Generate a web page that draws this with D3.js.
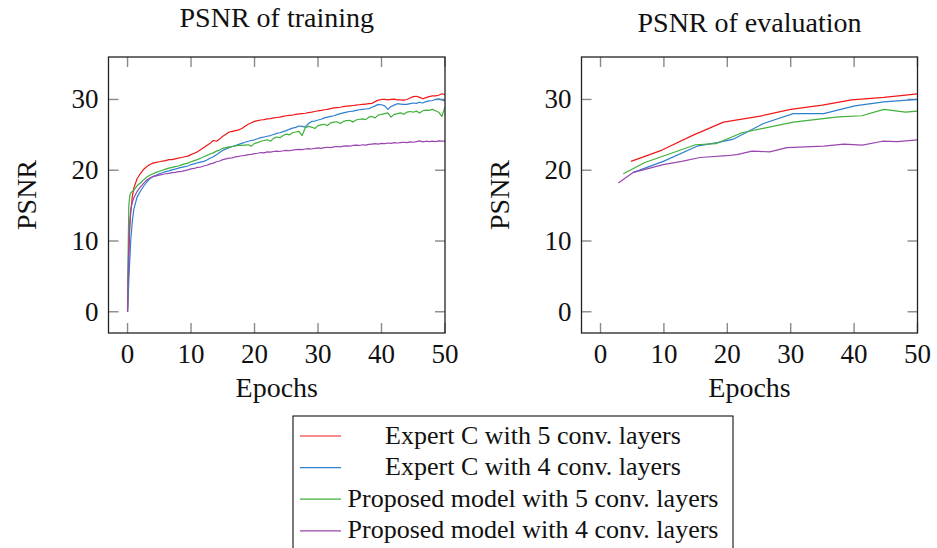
<!DOCTYPE html>
<html><head><meta charset="utf-8">
<script src="https://cdn.jsdelivr.net/npm/d3@7/dist/d3.min.js"></script>
<style>html,body{margin:0;padding:0;background:#fff;}svg{display:block;}
svg text{font-family:"Liberation Serif","Times New Roman",Times,"DejaVu Serif",serif;}</style>
</head><body>
<svg id="chart" width="937" height="548"></svg>
<script>
// ---------- DATA ----------
const trainEpochs = [0,0.1,0.2,0.35,0.5,0.75,1,1.5,2,2.5,
 3,3.5,4,4.5,5,5.5,6,6.5,7,7.5,
 8,8.5,9,9.5,10,10.5,11,11.5,12,12.5,
 13,13.5,14,14.5,15,15.5,16,16.5,17,17.5,
 18,18.5,19,19.5,20,20.5,21,21.5,22,22.5,
 23,23.5,24,24.5,25,25.5,26,26.5,27,27.5,
 28,28.5,29,29.5,30,30.5,31,31.5,32,32.5,
 33,33.5,34,34.5,35,35.5,36,36.5,37,37.5,
 38,38.5,39,39.5,40,40.5,41,41.5,42,42.5,
 43,43.5,44,44.5,45,45.5,46,46.5,47,47.5,
 48,48.5,49,49.5,50];

const trainExpert5 = [0,3.5,7.5,12.0,14.0,16.3,17.5,18.8,19.5,20.1,
 20.5,20.8,21.0,21.1,21.2,21.3,21.35,21.5,21.5,21.6,
 21.7,21.8,21.9,22.0,22.2,22.4,22.6,22.9,23.2,23.5,
 23.8,24.2,24.1,24.4,24.8,25.1,25.4,25.5,25.6,25.7,
 25.9,26.2,26.5,26.7,26.9,27.0,27.1,27.15,27.25,27.3,
 27.4,27.45,27.5,27.6,27.7,27.75,27.8,27.9,27.95,28.0,
 28.05,28.15,28.2,28.3,28.4,28.45,28.55,28.6,28.7,28.8,
 28.85,28.9,29.0,29.05,29.1,29.15,29.2,29.25,29.3,29.35,
 29.4,29.45,29.7,29.9,30.0,30.0,29.95,30.0,30.05,29.95,
 29.95,29.9,30.0,30.2,30.4,30.45,30.3,30.1,30.25,30.4,
 30.5,30.5,30.6,30.8,30.7];

const trainExpert4 = [0,2.0,4.5,7.3,10.0,12.8,14.5,16.2,17.0,17.7,
 18.3,18.8,19.1,19.3,19.5,19.65,19.8,19.9,20.05,20.15,
 20.3,20.4,20.5,20.6,20.8,20.9,21.05,21.15,21.25,21.45,
 21.7,21.9,22.2,22.5,22.8,23.0,23.2,23.35,23.5,23.65,
 23.8,23.95,24.1,24.2,24.3,24.45,24.6,24.7,24.8,24.9,
 25.05,25.2,25.3,25.45,25.6,25.8,25.95,26.05,26.25,26.2,
 26.1,26.6,26.9,26.95,27.1,27.2,27.4,27.5,27.6,27.7,
 27.85,28.0,28.1,28.2,28.3,28.35,28.45,28.55,28.6,28.65,
 28.7,28.9,29.1,29.3,29.25,29.1,28.6,29.0,29.2,29.4,
 29.35,29.3,29.3,29.4,29.5,29.45,29.6,29.5,29.7,29.8,
 29.85,30.0,30.1,29.95,29.75];

const trainProposed5 = [0,9.0,15.0,16.4,16.8,17.0,17.2,17.8,18.2,18.6,
 19.0,19.3,19.5,19.7,19.85,20.0,20.15,20.3,20.4,20.5,
 20.6,20.75,20.9,21.0,21.2,21.35,21.5,21.7,21.9,22.1,
 22.3,22.45,22.7,22.85,23.1,23.2,23.3,23.35,23.45,23.5,
 23.5,23.55,23.6,23.4,23.8,23.9,24.1,24.2,24.3,24.1,
 24.5,24.7,24.6,24.9,25.1,25.0,25.3,25.4,25.5,24.9,
 26.0,26.2,26.1,25.9,26.3,26.4,26.5,26.3,26.7,26.8,
 26.85,26.6,26.9,27.0,27.05,26.8,27.1,27.2,27.25,27.15,
 27.5,27.6,27.4,27.8,27.9,28.0,28.1,27.5,27.9,28.0,
 28.1,27.9,28.2,28.3,28.2,28.35,28.1,28.4,28.5,28.45,
 28.6,28.4,28.2,27.6,28.95];

const trainProposed4 = [0,6.0,9.7,12.5,14.4,15.5,16.1,17.0,17.6,18.1,
 18.6,18.9,19.1,19.2,19.3,19.4,19.5,19.55,19.65,19.7,
 19.8,19.85,19.95,20.05,20.2,20.25,20.4,20.45,20.6,20.7,
 20.9,21.0,21.2,21.3,21.5,21.6,21.7,21.75,21.9,21.95,
 22.05,22.1,22.2,22.25,22.35,22.4,22.5,22.45,22.6,22.55,
 22.65,22.7,22.65,22.75,22.8,22.75,22.85,22.9,22.95,22.9,
 23.0,23.05,23.0,23.1,23.15,23.1,23.2,23.25,23.2,23.3,
 23.35,23.3,23.4,23.45,23.4,23.5,23.55,23.5,23.6,23.55,
 23.65,23.7,23.75,23.7,23.8,23.75,23.85,23.8,23.9,23.85,
 23.9,23.95,23.9,24.0,23.95,24.05,24.15,24.0,24.1,24.05,
 24.1,24.05,24.15,24.1,24.1];

const evalExpert5X = [4.8,9.7,14.7,19.4,25.2,30.0,35.0,39.6,44.7,50];
const evalExpert5Y = [21.25,22.85,25.0,26.8,27.65,28.6,29.2,29.95,30.3,30.8];
const evalExpert4X = [5.2,9.9,15.4,18.4,21.0,25.7,30.4,35.2,40.1,44.7,50];
const evalExpert4Y = [19.7,21.25,23.45,23.9,24.4,26.6,28.0,28.0,29.1,29.65,30.0];
const evalProposed5X = [3.6,7.0,15.0,18.2,22.3,30.4,37.5,41.2,44.7,48.1,50];
const evalProposed5Y = [19.5,21.1,23.6,23.75,25.3,26.8,27.55,27.7,28.6,28.2,28.35];
const evalProposed4X = [2.8,5.2,9.9,12.8,15.7,19.9,21.5,23.9,26.7,29.4,35.2,38.4,41.3,44.5,46.8,50];
const evalProposed4Y = [18.2,19.7,20.8,21.25,21.8,22.05,22.2,22.7,22.6,23.2,23.4,23.7,23.55,24.1,24.05,24.3];

const seriesNames = ["Expert C with 5 conv. layers","Expert C with 4 conv. layers",
  "Proposed model with 5 conv. layers","Proposed model with 4 conv. layers"];
const xTicks = [0,10,20,30,40,50];
const yTicks = [0,10,20,30];
const xDomain = [-3,50];
const yDomain = [-3,36];
const titles = ["PSNR of training","PSNR of evaluation"];
const xLabel = "Epochs";
const yLabel = "PSNR";

// ---------- STYLE ----------
const colors = ["#f01818","#2f7fd0","#3fb03a","#9a46b0"];

const svg = d3.select("#chart");

function zip(xs, ys){ return xs.map((x,i)=>[x, ys[i]]); }

const trainSeries = [trainExpert5, trainExpert4, trainProposed5, trainProposed4].map(v=>zip(trainEpochs, v));
const evalSeries = [
  zip(evalExpert5X, evalExpert5Y), zip(evalExpert4X, evalExpert4Y),
  zip(evalProposed5X, evalProposed5Y), zip(evalProposed4X, evalProposed4Y)];

function panel(cfg){
  const g = svg.append("g");
  const x = d3.scaleLinear().domain(xDomain).range([cfg.left, cfg.right]);
  const y = d3.scaleLinear().domain(yDomain).range([cfg.bottom, cfg.top]);

  const tl = 10;
  const tg = g.append("g").attr("stroke","#8a8a8a").attr("stroke-width",1.4);
  xTicks.forEach(t=>{
    tg.append("line").attr("x1",x(t)).attr("x2",x(t)).attr("y1",cfg.bottom).attr("y2",cfg.bottom-tl);
    tg.append("line").attr("x1",x(t)).attr("x2",x(t)).attr("y1",cfg.top).attr("y2",cfg.top+tl);
  });
  yTicks.forEach(t=>{
    tg.append("line").attr("y1",y(t)).attr("y2",y(t)).attr("x1",cfg.left).attr("x2",cfg.left+tl);
    tg.append("line").attr("y1",y(t)).attr("y2",y(t)).attr("x1",cfg.right).attr("x2",cfg.right-tl);
  });

  const line = d3.line().x(d=>x(d[0])).y(d=>y(d[1]));
  cfg.series.forEach((s,i)=>{
    g.append("path").datum(s).attr("d",line).attr("fill","none")
      .attr("stroke",colors[i]).attr("stroke-width",1.2).attr("stroke-linejoin","round");
  });

  g.append("rect").attr("x",cfg.left).attr("y",cfg.top)
    .attr("width",cfg.right-cfg.left).attr("height",cfg.bottom-cfg.top)
    .attr("fill","none").attr("stroke","#222").attr("stroke-width",1.3);

  xTicks.forEach(t=>{
    g.append("text").attr("x",x(t)).attr("y",363).attr("text-anchor","middle")
      .attr("font-size",27).attr("fill","#111").text(t);
  });
  yTicks.forEach(t=>{
    g.append("text").attr("x",cfg.left-10).attr("y",y(t)+9).attr("text-anchor","end")
      .attr("font-size",27).attr("fill","#111").text(t);
  });

  g.append("text").attr("x",(cfg.left+cfg.right)/2).attr("y",397).attr("text-anchor","middle")
    .attr("font-size",28).attr("fill","#111").text(xLabel);
  g.append("text").attr("transform",`translate(${cfg.left-73},${(cfg.top+cfg.bottom)/2 }) rotate(-90)`)
    .attr("text-anchor","middle").attr("font-size",28).attr("fill","#111").text(yLabel);

  g.append("text").attr("x",(cfg.left+cfg.right)/2).attr("y",cfg.titleY).attr("text-anchor","middle")
    .attr("font-size",28).attr("fill","#111").text(cfg.title);
}

panel({left:108.5,right:445,top:57,bottom:333,series:trainSeries,title:titles[0],titleY:27});
panel({left:581.5,right:917.5,top:57,bottom:333,series:evalSeries,title:titles[1],titleY:32});

const lg = svg.append("g");
lg.append("rect").attr("x",293).attr("y",416).attr("width",440).attr("height",140)
  .attr("fill","#fff").attr("stroke","#111").attr("stroke-width",1.1);
seriesNames.forEach((n,i)=>{
  const cy = 436 + i*31.6;
  lg.append("line").attr("x1",300).attr("x2",341).attr("y1",cy).attr("y2",cy)
    .attr("stroke",colors[i]).attr("stroke-width",1.2);
  lg.append("text").attr("x",533).attr("y",cy+7.5).attr("text-anchor","middle")
    .attr("font-size",26).attr("fill","#111").text(n);
});
</script>
</body></html>
